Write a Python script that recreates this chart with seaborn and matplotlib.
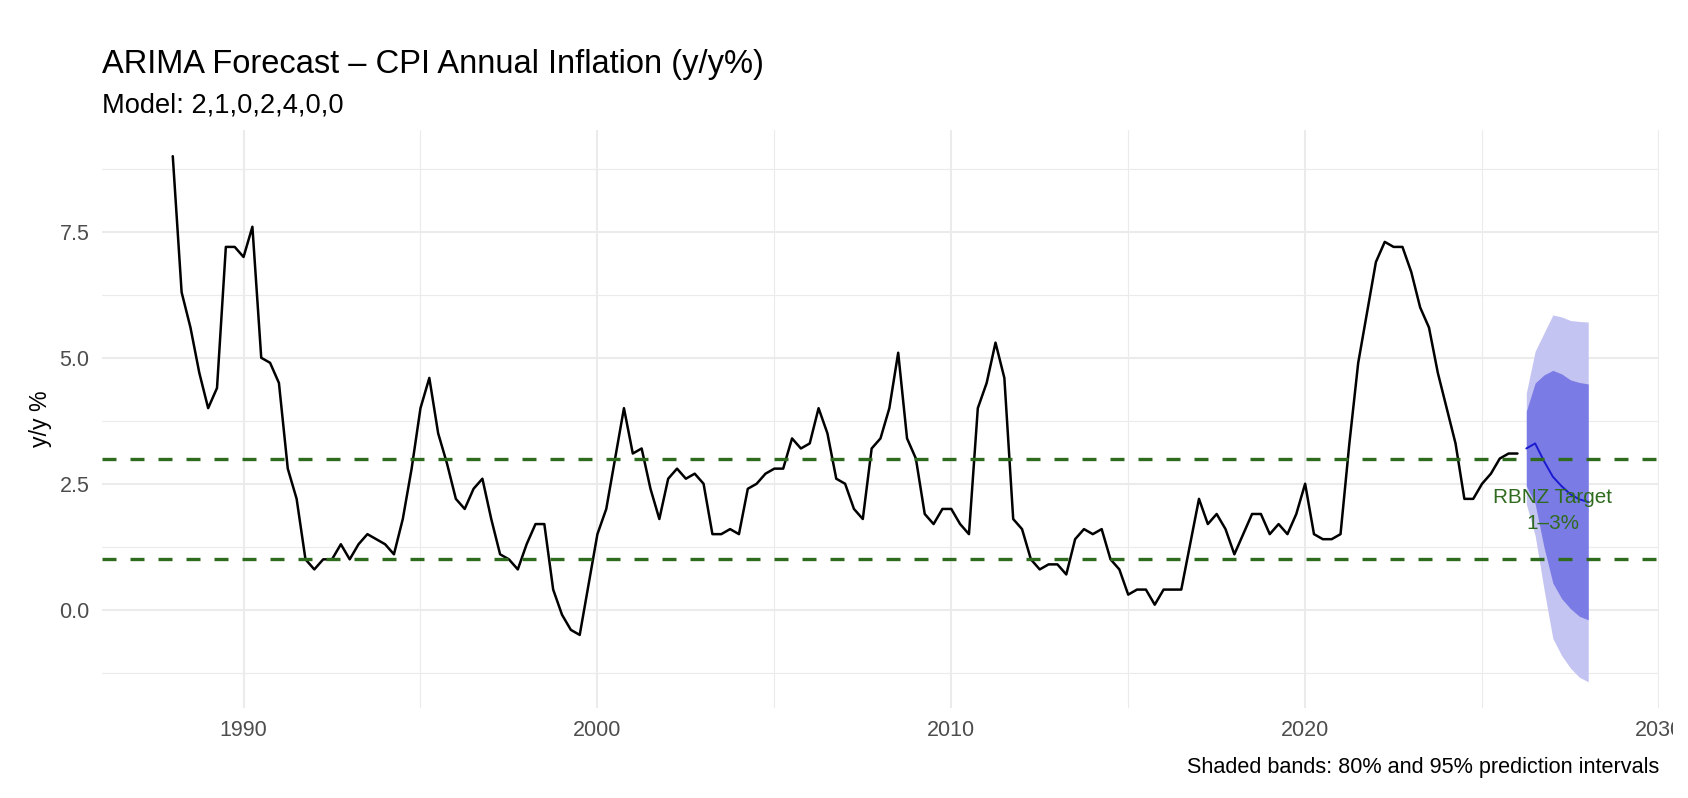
import matplotlib
matplotlib.use("Agg")
import matplotlib.pyplot as plt
import numpy as np
import pandas as pd
import seaborn as sns
from matplotlib.ticker import MultipleLocator, FormatStrFormatter
from matplotlib.transforms import Bbox, TransformedBbox

# quarterly CPI annual inflation, 1988 Q1 .. 2026 Q1
cpi = [
    9.0, 6.3, 5.6, 4.7,   4.0, 4.4, 7.2, 7.2,   7.0, 7.6, 5.0, 4.9,
    4.5, 2.8, 2.2, 1.0,   0.8, 1.0, 1.0, 1.3,   1.0, 1.3, 1.5, 1.4,
    1.3, 1.1, 1.8, 2.8,   4.0, 4.6, 3.5, 2.9,   2.2, 2.0, 2.4, 2.6,
    1.8, 1.1, 1.0, 0.8,   1.3, 1.7, 1.7, 0.4,   -0.1, -0.4, -0.5, 0.5,
    1.5, 2.0, 3.0, 4.0,   3.1, 3.2, 2.4, 1.8,   2.6, 2.8, 2.6, 2.7,
    2.5, 1.5, 1.5, 1.6,   1.5, 2.4, 2.5, 2.7,   2.8, 2.8, 3.4, 3.2,
    3.3, 4.0, 3.5, 2.6,   2.5, 2.0, 1.8, 3.2,   3.4, 4.0, 5.1, 3.4,
    3.0, 1.9, 1.7, 2.0,   2.0, 1.7, 1.5, 4.0,   4.5, 5.3, 4.6, 1.8,
    1.6, 1.0, 0.8, 0.9,   0.9, 0.7, 1.4, 1.6,   1.5, 1.6, 1.0, 0.8,
    0.3, 0.4, 0.4, 0.1,   0.4, 0.4, 0.4, 1.3,   2.2, 1.7, 1.9, 1.6,
    1.1, 1.5, 1.9, 1.9,   1.5, 1.7, 1.5, 1.9,   2.5, 1.5, 1.4, 1.4,
    1.5, 3.3, 4.9, 5.9,   6.9, 7.3, 7.2, 7.2,   6.7, 6.0, 5.6, 4.7,
    4.0, 3.3, 2.2, 2.2,   2.5, 2.7, 3.0, 3.1,   3.1,
]
hist_start = 1988.0

# forecast 2026 Q2 .. 2028 Q1
fc_start = 2026.25
fc_mean = [3.2, 3.3, 2.95, 2.64, 2.45, 2.29, 2.19, 2.14]
lo80 = [2.46, 2.1, 1.24, 0.53, 0.22, 0.02, -0.13, -0.2]
hi80 = [3.94, 4.5, 4.66, 4.75, 4.68, 4.56, 4.51, 4.48]
lo95 = [2.1, 1.47, 0.41, -0.57, -0.91, -1.16, -1.34, -1.43]
hi95 = [4.3, 5.13, 5.49, 5.85, 5.81, 5.74, 5.72, 5.71]

target_band = [1, 3]
x_ticks = [1990, 2000, 2010, 2020, 2030]

hist = pd.DataFrame({"year": hist_start + np.arange(len(cpi)) / 4, "cpi": cpi})
fc = pd.DataFrame({
    "year": fc_start + np.arange(len(fc_mean)) / 4,
    "mean": fc_mean, "lo80": lo80, "hi80": hi80, "lo95": lo95, "hi95": hi95,
})

sns.set_theme(style="white")
plt.rcParams['font.family'] = ['Liberation Sans', 'DejaVu Sans']

W, H = 1688, 798
fig = plt.figure(figsize=(W / 100, H / 100), dpi=100)
ax = fig.add_axes([102 / W, 1 - 708 / H, (1659 - 102) / W, (708 - 130) / H])

ax.fill_between(fc["year"], fc["lo95"], fc["hi95"], color="#c4c4f2", linewidth=0, zorder=2)
ax.fill_between(fc["year"], fc["lo80"], fc["hi80"], color="#7b7be6", linewidth=0, zorder=3)

sns.lineplot(data=hist, x="year", y="cpi", color="black", linewidth=1.8, ax=ax, zorder=4)
sns.lineplot(data=fc, x="year", y="mean", color="#1a1ad0", linewidth=1.4, ax=ax, zorder=5)

for v in target_band:
    ax.axhline(v, color="#2f6b1f", linewidth=2.4, linestyle=(0, (4.2, 4.2)), zorder=6)

ax.text(2027, 1.97, "RBNZ Target\n1–3%", color="#2f6b1f", fontsize=14.9,
        ha="center", va="center", linespacing=1.5, zorder=7)

ax.set_xlim(1986, 2030)
ax.set_ylim(-1.95, 9.52)
ax.set_xticks(x_ticks)
ax.xaxis.set_minor_locator(MultipleLocator(5))
ax.yaxis.set_major_locator(MultipleLocator(2.5))
ax.yaxis.set_minor_locator(MultipleLocator(1.25))
ax.yaxis.set_major_formatter(FormatStrFormatter("%.1f"))

ax.grid(which="major", color="#ebebeb", linewidth=1.5)
ax.grid(which="minor", color="#ebebeb", linewidth=0.8)
ax.set_axisbelow(True)
for s in ax.spines.values():
    s.set_visible(False)
ax.tick_params(axis="both", which="both", length=0, labelsize=15.5, labelcolor="#4d4d4d")
ax.tick_params(axis="x", pad=9)
ax.tick_params(axis="y", pad=9)

ax.set_xlabel("")
ax.set_ylabel("y/y %", fontsize=16.7, color="black")
ax.yaxis.set_label_coords(-0.032, 0.5)

fig.text(102 / W, 1 - 73 / H, "ARIMA Forecast – CPI Annual Inflation (y/y%)",
         fontsize=23.5, ha="left", va="baseline", color="black")
fig.text(102 / W, 1 - 112 / H, "Model: 2,1,0,2,4,0,0",
         fontsize=19.6, ha="left", va="baseline", color="black")
fig.text(1659 / W, 1 - 768 / H, "Shaded bands: 80% and 95% prediction intervals",
         fontsize=15.6, ha="right", va="center", color="black")

# the last year label is cut off at the right edge in the original
fig.canvas.draw()
clip = TransformedBbox(Bbox([[0, 0], [1673 / W, 1]]), fig.transFigure)
for lbl in ax.get_xticklabels():
    lbl.set_clip_box(clip)
    lbl.set_clip_on(True)

fig.savefig("out.png", dpi=100)
